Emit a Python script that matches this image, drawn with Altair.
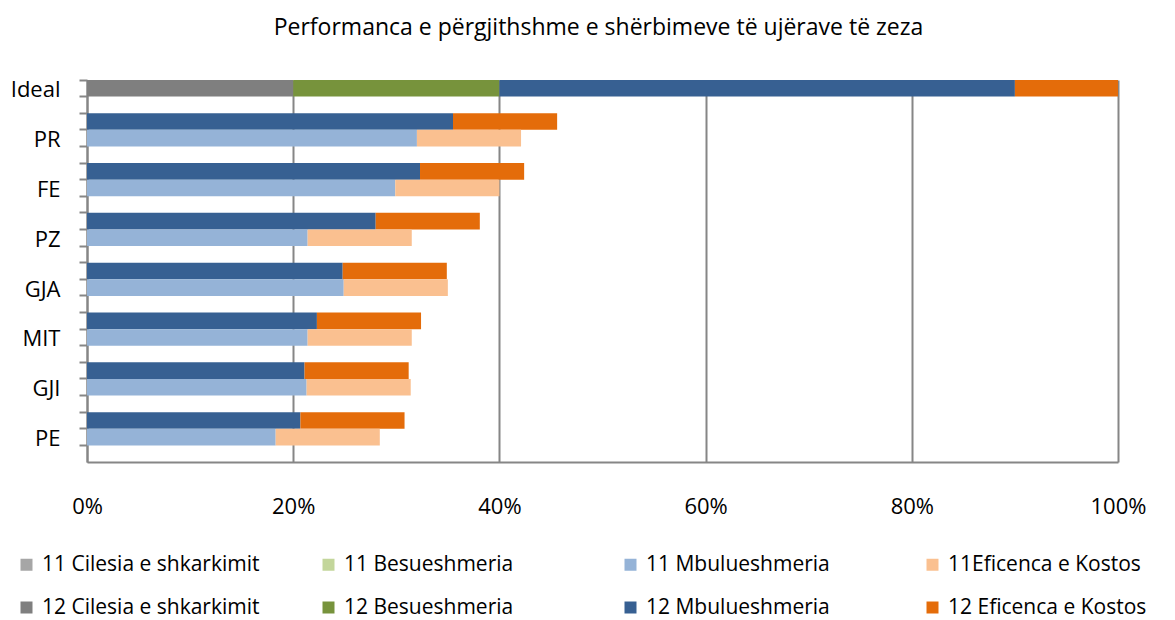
import altair as alt
import pandas as pd

# ---- data ----
categories = ["PR", "FE", "PZ", "GJA", "MIT", "GJI", "PE"]
series_11 = ["11 Cilesia e shkarkimit", "11 Besueshmeria", "11 Mbulueshmeria", "11Eficenca e Kostos"]
series_12 = ["12 Cilesia e shkarkimit", "12 Besueshmeria", "12 Mbulueshmeria", "12 Eficenca e Kostos"]
colors_11 = ["#a6a6a6", "#c3d69b", "#95b3d7", "#fac090"]
colors_12 = ["#7f7f7f", "#77933c", "#376092", "#e46c0a"]

ideal_values = [20, 20, 50, 10]  # Ideal row (drawn with the 12 colours)

cil_12 = [0, 0, 0, 0, 0, 0, 0]
bes_12 = [0, 0, 0, 0, 0, 0, 0]
mbu_12 = [35.5, 32.3, 28.0, 24.8, 22.3, 21.1, 20.7]
efi_12 = [10.1, 10.1, 10.1, 10.1, 10.1, 10.1, 10.1]

cil_11 = [0, 0, 0, 0, 0, 0, 0]
bes_11 = [0, 0, 0, 0, 0, 0, 0]
mbu_11 = [32.0, 29.9, 21.4, 24.9, 21.4, 21.3, 18.3]
efi_11 = [10.1, 10.1, 10.1, 10.1, 10.1, 10.1, 10.1]

x_ticks = [0, 20, 40, 60, 80, 100]

# ---- table ----
records = []
for i, v in enumerate(ideal_values):
    records.append({"row": "Ideal", "series": series_12[i], "order": i, "value": v})
for c, cat in enumerate(categories):
    vals12 = [cil_12[c], bes_12[c], mbu_12[c], efi_12[c]]
    vals11 = [cil_11[c], bes_11[c], mbu_11[c], efi_11[c]]
    for i in range(4):
        if vals12[i] > 0:
            records.append({"row": cat + "|12", "series": series_12[i], "order": i, "value": vals12[i]})
        if vals11[i] > 0:
            records.append({"row": cat, "series": series_11[i], "order": i, "value": vals11[i]})
df = pd.DataFrame(records)

row_domain = ["Ideal"]
for k, cat in enumerate(categories):
    row_domain += ["gap|%d" % k, cat + "|12", cat]
row_domain += ["gap|end"]

W, H = 1031, 382

font = "Open Sans"
grey = "#868686"

chart = alt.Chart(df).mark_bar(strokeWidth=0).encode(
    x=alt.X("value:Q", stack="zero",
            scale=alt.Scale(domain=[0, 100], nice=False),
            axis=alt.Axis(values=x_ticks, labelExpr="datum.value + '%'", title=None,
                          grid=True, gridColor=grey, gridWidth=2, ticks=False,
                          domainColor=grey, domainWidth=2, labelPadding=34,
                          labelFlush=False,
                          labelFontSize=22, labelColor="#000000", labelFont=font)),
    y=alt.Y("row:N", scale=alt.Scale(domain=row_domain, paddingInner=0, paddingOuter=0),
            axis=alt.Axis(title=None, bandPosition=0, labelOffset=2,
                          labelExpr="indexof(datum.value, '|') >= 0 ? '' : datum.value",
                          tickSize=8, tickColor=grey, tickWidth=2,
                          domainColor=grey, domainWidth=2, labelPadding=19,
                          labelFontSize=22, labelColor="#000000", labelFont=font)),
    color=alt.Color("series:N",
                    scale=alt.Scale(domain=series_11 + series_12, range=colors_11 + colors_12),
                    legend=alt.Legend(title=None, orient="none", legendX=-71, legendY=474,
                                      direction="horizontal",
                                      columns=4, gridAlign="all", columnPadding=58,
                                      rowPadding=21, symbolType="square", symbolSize=144,
                                      symbolStrokeWidth=0, labelFontSize=21, labelFont=font,
                                      labelColor="#000000", labelLimit=400, labelOffset=5)),
    order=alt.Order("order:Q"),
).properties(
    width=W, height=H,
    title=alt.TitleParams("Performanca e përgjithshme e shërbimeve të ujërave të zeza",
                          fontSize=23, font=font, fontWeight="normal", color="#000000",
                          anchor="middle", offset=39, dx=-4),
    autosize=alt.AutoSizeParams(type="none"),
    padding={"left": 79, "top": 72, "right": 40, "bottom": 158},
).configure_view(stroke=None)

chart.save("out.html", embed_options={"renderer": "svg", "actions": False})
